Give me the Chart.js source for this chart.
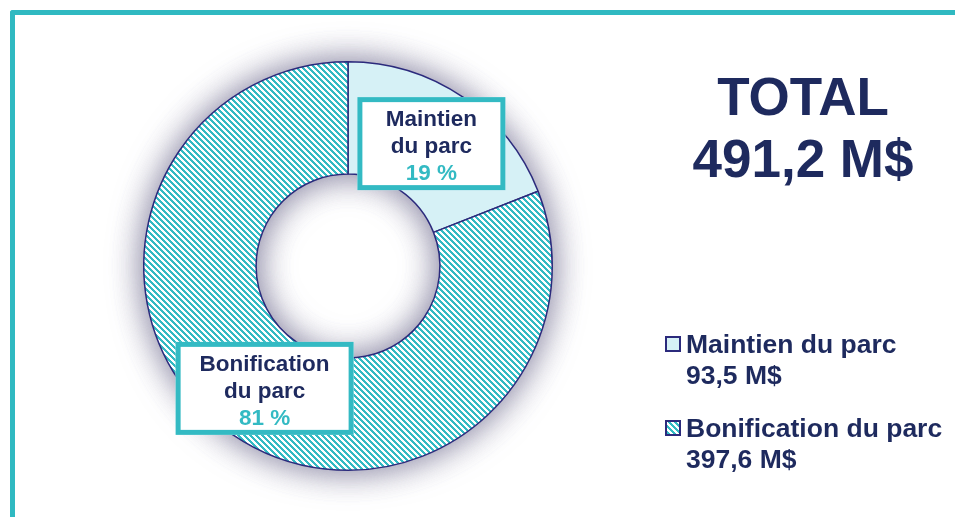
<!DOCTYPE html>
<html>
<head>
<meta charset="utf-8">
<script src="https://cdn.jsdelivr.net/npm/chart.js@4"></script>
<style>
  html, body { margin: 0; padding: 0; background: #fff; }
  #wrap { position: relative; width: 955px; height: 517px; overflow: hidden; }
  #frame {
    position: absolute; left: 10px; top: 10px; width: 960px; height: 520px;
    border-left: 5px solid #2fb9c1; border-top: 5px solid #2fb9c1;
    border-top-left-radius: 3px; box-sizing: border-box;
  }
  canvas { position: absolute; left: 0; top: 0; }
</style>
</head>
<body>
<div id="wrap">
  <div id="frame"></div>
  <canvas id="donut" width="955" height="517"></canvas>
</div>
<script>
const categories = ['Maintien du parc', 'Bonification du parc'];
const boxLabels = [['Maintien', 'du parc'], ['Bonification', 'du parc']];
const amounts = [93.5, 397.6];          // M$
const percents = ['19 %', '81 %'];
const totalLabel = ['TOTAL', '491,2 M$'];

const NAVY = '#1e2a5e';
const TEAL = '#33bac3';
const EDGE = '#2b2a7c';
const FONT = '"Liberation Sans", Arial, sans-serif';

function fmt(v) { return v.toFixed(1).replace('.', ',') + ' M$'; }

// diagonal teal/white stripes, pixel tile so they stay crisp
function stripes() {
    const s = 6;
    const c = document.createElement('canvas');
    c.width = s; c.height = s;
    const g = c.getContext('2d');
    g.fillStyle = '#fff';
    g.fillRect(0, 0, s, s);
    g.fillStyle = TEAL;
    for (let y = 0; y < s; y++) {
        for (let x = 0; x < s; x++) {
            if (((x - y) % s + s) % s < 3) g.fillRect(x, y, 1, 1);
        }
    }
    return g.createPattern(c, 'repeat');
}

const ctx = document.getElementById('donut').getContext('2d');
const pattern = stripes();
const fills = ['#d6f1f6', pattern];

const decor = {
    id: 'decor',
    beforeDatasetsDraw(chart) {
        const arc = chart.getDatasetMeta(0).data[0];
        const c = chart.ctx;
        c.save();
        c.shadowColor = 'rgba(115, 112, 145, 0.6)';
        c.shadowBlur = 34;
        c.fillStyle = '#fff';
        for (let k = 0; k < 2; k++) {
            c.beginPath();
            c.arc(arc.x, arc.y, arc.outerRadius, 0, Math.PI * 2);
            c.arc(arc.x, arc.y, arc.innerRadius, 0, Math.PI * 2, true);
            c.fill();
        }
        c.restore();
    },
    afterDraw(chart) {
        const c = chart.ctx;
        const meta = chart.getDatasetMeta(0);
        c.save();
        c.textAlign = 'center';
        c.textBaseline = 'alphabetic';

        // label boxes on each slice
        const boxW = [148, 178];
        meta.data.forEach((arc, i) => {
            const p = arc.tooltipPosition();
            const w = boxW[i], h = 93;
            const x0 = p.x - w / 2, y0 = p.y - h / 2;
            c.fillStyle = '#fff';
            c.fillRect(x0, y0, w, h);
            c.strokeStyle = TEAL;
            c.lineWidth = 5;
            c.strokeRect(x0 + 2.5, y0 + 2.5, w - 5, h - 5);
            c.font = 'bold 22.5px ' + FONT;
            c.fillStyle = NAVY;
            c.fillText(boxLabels[i][0], p.x, y0 + 29);
            c.fillText(boxLabels[i][1], p.x, y0 + 56);
            c.fillStyle = TEAL;
            c.fillText(percents[i], p.x, y0 + 83);
        });

        // total
        c.fillStyle = NAVY;
        c.font = 'bold 53px ' + FONT;
        c.fillText(totalLabel[0], 803, 115);
        c.fillText(totalLabel[1], 803, 177);

        // legend
        c.textAlign = 'left';
        c.font = 'bold 26.5px ' + FONT;
        const rows = [353, 437];
        categories.forEach((name, i) => {
            const y = rows[i];
            c.fillStyle = fills[i];
            c.fillRect(666, y - 16, 14, 14);
            c.strokeStyle = EDGE;
            c.lineWidth = 2;
            c.strokeRect(666, y - 16, 14, 14);
            c.fillStyle = NAVY;
            c.fillText(name, 686, y);
            c.fillText(fmt(amounts[i]), 686, y + 31);
        });
        c.restore();
    }
};

new Chart(ctx, {
    type: 'doughnut',
    data: {
        labels: categories,
        datasets: [{
            data: amounts,
            backgroundColor: fills,
            borderColor: EDGE,
            borderWidth: 1.5,
            borderAlign: 'center'
        }]
    },
    options: {
        responsive: false,
        animation: false,
        cutout: '45%',
        layout: { padding: { left: 143, right: 402, top: 61, bottom: 46 } },
        plugins: { legend: { display: false }, tooltip: { enabled: false } }
    },
    plugins: [decor]
});
</script>
</body>
</html>
